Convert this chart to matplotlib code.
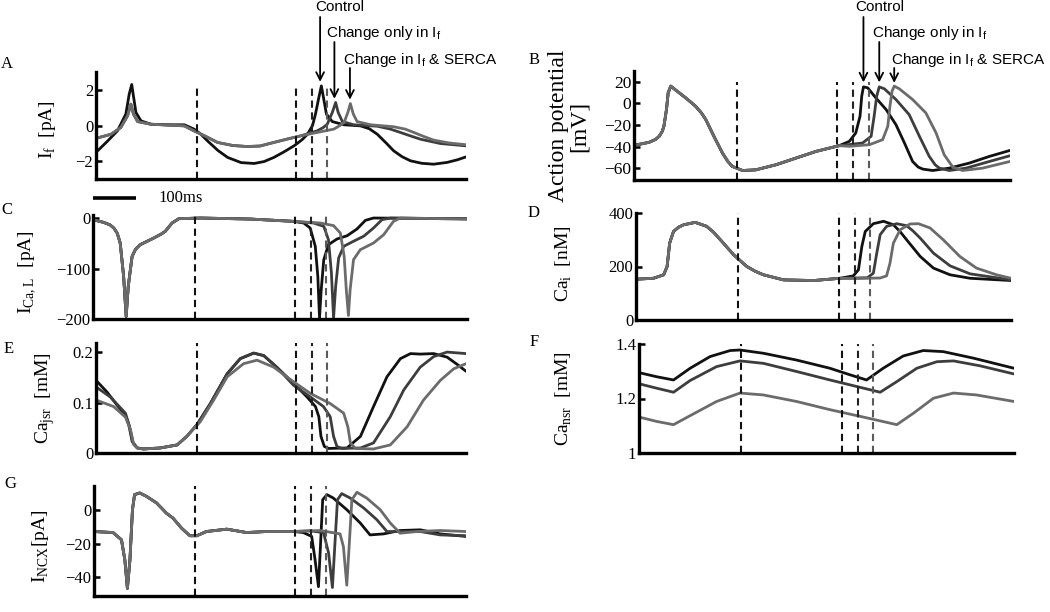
import matplotlib
matplotlib.use("Agg")
from matplotlib import pyplot as plt
from matplotlib.transforms import blended_transform_factory

plt.rcParams['font.family'] = ['Liberation Serif', 'DejaVu Serif']
plt.rcParams['mathtext.fontset'] = 'custom'
plt.rcParams['mathtext.rm'] = 'Liberation Serif'

W, H = 1050, 612

# line colours of the three runs
C_CTRL = "#111111"
C_IF = "#3d3d3d"
C_SERCA = "#6b6b6b"

# time of the dashed markers (ms) and their colours
marks = [240, 476, 513, 549]
mark_colors = ["#111111", "#111111", "#222222", "#5a5a5a"]

# ---- A: I_f [pA] ----
if_ctrl = [(0, -1.51), (28, -0.86), (51, -0.3), (71, 0.64), (79, 1.76), (85, 2.3), (89, 1.66),
           (95, 0.73), (107, 0.26), (131, 0.07), (170, 0.04), (210, 0.04), (233, -0.2), (250, -0.5),
           (265, -0.86), (290, -1.4), (313, -1.79), (345, -2.08), (376, -2.13), (400, -2.02), (423, -1.79),
           (447, -1.48), (471, -1.14), (490, -0.8), (503, -0.49), (515, 0.0), (522, 0.64), (530, 1.57),
           (536, 2.22), (541, 1.57), (548, 0.64), (562, 0.22), (590, 0.04), (629, -0.02), (650, -0.18),
           (669, -0.49), (690, -0.98), (708, -1.42), (728, -1.75), (748, -1.98), (775, -2.12),
           (803, -2.17), (835, -2.07), (860, -1.92), (880, -1.76)]
if_grey = [(0, -0.72), (36, -0.49), (59, -0.11), (75, 0.54), (83, 1.2), (89, 0.64), (99, 0.22),
           (131, 0.07), (210, -0.02), (233, -0.3), (260, -0.6), (289, -0.95), (325, -1.12),
           (360, -1.18), (390, -1.15), (423, -0.95), (455, -0.76), (487, -0.58)]
if_only = if_grey + [(526, -0.3), (540, -0.12), (550, 0.07), (562, 0.73), (570, 1.29), (576, 0.73),
                     (586, 0.22), (613, 0.04), (669, -0.04), (700, -0.2), (724, -0.39), (750, -0.6),
                     (772, -0.77), (819, -1.01), (880, -1.14)]
if_serca = if_grey + [(526, -0.39), (566, -0.2), (580, 0.0), (590, 0.17), (599, 0.73), (605, 1.23),
                      (612, 0.64), (621, 0.22), (653, 0.04), (708, -0.07), (735, -0.2), (756, -0.39),
                      (780, -0.62), (803, -0.82), (840, -0.98), (880, -1.08)]

# ---- B: action potential [mV] ----
ap_common = [(0, -38.9), (35, -36.1), (50, -33.5), (59, -30.5), (66, -26), (70, -21.2), (76, -5.7), (80, 9.8),
             (86, 16), (98, 12.2), (121, 5.1), (144, -2.6), (158, -9), (168, -15), (187, -30.5), (207, -46),
             (220, -54), (230, -58.4), (254, -62.2), (285, -61.6), (332, -56.9), (379, -50.7), (426, -44.5),
             (480, -39.2)]
ap_ctrl = ap_common + [(504, -35.2), (519, -27.4), (529, -11.9), (533, 6.7), (537, 15.3), (547, 14.4),
                       (566, 5.1), (590, -5.7), (613, -19.7), (633, -36.7), (652, -53.8), (665, -59),
                       (676, -60.9), (699, -62.2), (738, -60), (785, -55.3), (832, -49.1), (880, -43.6)]
ap_if = ap_common + [(504, -38.2), (535, -36.7), (555, -30.5), (562, -11.9), (568, 6.7), (574, 15.3),
                     (586, 13.5), (613, 3.6), (644, -10.4), (668, -30.5), (691, -49.1), (705, -57),
                     (715, -60), (738, -62.2), (777, -60), (832, -53.8), (880, -48.5)]
ap_serca = ap_common + [(504, -39.8), (551, -38.3), (582, -33.6), (594, -21.2), (599, -2.6), (604, 11.3),
                        (609, 16), (621, 13.5), (652, 3.6), (683, -8.8), (707, -27.4), (726, -47.6),
                        (746, -59), (769, -62.2), (816, -60), (880, -53.8)]

# ---- C: I_Ca,L [pA] ----
ical_common = [(0, -3.3), (25, -8.6), (40, -13.5), (49, -19.8), (57, -30), (64, -49.5), (72, -115), (78, -195),
               (83, -135), (92, -76), (100, -62), (111, -52.8), (143, -39.6), (160, -32), (170, -26.4),
               (186, -9.9), (202, -1.3), (253, 0), (370, -2), (472, -6.6)]
ical_ctrl = ical_common + [(496, -9.9), (511, -19.8), (523, -56), (529, -115.5), (533, -198), (537, -142),
                           (543, -82.5), (554, -52.8), (574, -41.6), (598, -35), (621, -21.8), (641, -4.6),
                           (660, 0), (880, -1.3)]
ical_if = ical_common + [(519, -9.9), (543, -16.5), (554, -42.9), (561, -109), (566, -198), (571, -135),
                         (578, -79), (590, -56), (613, -46), (637, -36), (660, -19.8), (680, -3.3),
                         (700, 0), (880, -2)]
ical_serca = ical_common + [(535, -9.9), (566, -15), (582, -29.7), (591, -76), (596, -142), (601, -193),
                            (605, -142), (613, -82.5), (629, -62.7), (660, -49.5), (684, -33), (707, -6.6),
                            (723, 0), (880, -2)]

# ---- D: Ca_i [nM] ----
cai_common = [(0, 152.5), (41, 156), (65, 169), (73, 200), (79, 287.5), (88, 331), (100, 347), (112, 356),
              (139, 365), (166, 350), (182, 328), (198, 300), (229, 244), (260, 200), (280, 182), (299, 169),
              (346, 150), (417, 147.5), (479, 156)]
cai_ctrl = cai_common + [(510, 165), (522, 187.5), (530, 275), (538, 331), (557, 360), (581, 369),
                         (604, 356), (620, 330), (635, 300), (667, 237.5), (698, 194), (737, 169), (784, 156),
                         (880, 147.5)]
cai_if = cai_common + [(510, 157), (543, 158), (557, 175), (565, 250), (573, 319), (588, 350), (612, 360),
                       (635, 352.5), (650, 333), (667, 306), (698, 250), (737, 202.5), (784, 172.5), (880, 150)]
cai_serca = cai_common + [(510, 155), (573, 157), (588, 165), (596, 212.5), (604, 287.5), (620, 337.5),
                          (643, 359), (663, 360), (690, 344), (721, 300), (760, 237.5), (799, 194),
                          (846, 169), (880, 156)]

# ---- E: Ca_jsr [mM] ----
jsr_mid = [(113, 0.008), (153, 0.01), (193, 0.016), (216, 0.033), (240, 0.056), (272, 0.098), (312, 0.157),
           (343, 0.187), (375, 0.198), (399, 0.193), (430, 0.17)]
jsr_ctrl = [(0, 0.144), (26, 0.121), (50, 0.095), (70, 0.075), (78, 0.056), (86, 0.023), (98, 0.01)] + jsr_mid + \
           [(470, 0.138), (502, 0.111), (522, 0.092), (530, 0.072), (535, 0.033), (543, 0.013), (553, 0.009),
            (597, 0.01), (629, 0.033), (660, 0.092), (692, 0.151), (724, 0.187), (748, 0.197), (771, 0.196),
            (803, 0.197), (835, 0.19), (860, 0.175), (880, 0.162)]
jsr_if = [(0, 0.131), (34, 0.111), (70, 0.079), (80, 0.052), (88, 0.02), (98, 0.01)] + jsr_mid + \
         [(470, 0.134), (510, 0.111), (541, 0.092), (557, 0.072), (565, 0.033), (573, 0.013), (585, 0.009),
          (629, 0.01), (660, 0.02), (700, 0.072), (732, 0.125), (771, 0.17), (803, 0.191), (835, 0.2),
          (880, 0.197)]
jsr_serca = [(0, 0.105), (42, 0.092), (70, 0.071), (82, 0.046), (90, 0.016), (100, 0.009), (113, 0.008),
             (153, 0.01), (193, 0.016), (216, 0.033), (248, 0.062), (280, 0.105), (312, 0.151), (351, 0.177),
             (383, 0.184), (423, 0.17), (470, 0.141), (510, 0.118), (557, 0.098), (589, 0.079), (599, 0.052),
             (605, 0.02), (617, 0.009), (660, 0.008), (700, 0.016), (740, 0.052), (779, 0.105), (819, 0.144),
             (851, 0.167), (880, 0.177)]

# ---- F: Ca_nsr [mM] ----
nsr_ctrl = [(0, 1.295), (41, 1.28), (81, 1.268), (120, 1.311), (167, 1.354), (214, 1.376), (237, 1.378),
            (292, 1.366), (370, 1.341), (448, 1.311), (495, 1.287), (534, 1.268), (573, 1.311), (620, 1.356),
            (667, 1.376), (714, 1.372), (785, 1.348), (880, 1.311)]
nsr_if = [(0, 1.254), (41, 1.238), (81, 1.223), (120, 1.266), (182, 1.317), (237, 1.338), (292, 1.329),
          (370, 1.299), (448, 1.268), (511, 1.244), (566, 1.223), (605, 1.262), (652, 1.311), (699, 1.335),
          (738, 1.338), (800, 1.32), (880, 1.29)]
nsr_serca = [(0, 1.132), (41, 1.116), (81, 1.104), (120, 1.137), (182, 1.189), (237, 1.22), (292, 1.213),
             (370, 1.189), (448, 1.159), (526, 1.132), (605, 1.104), (644, 1.146), (691, 1.201), (738, 1.22),
             (792, 1.213), (880, 1.189)]

# ---- G: I_NCX [pA] ----
ncx_common = [(0, -12.9), (45, -13.5), (65, -17.8), (73, -29.7), (79, -46.5), (85, -29.7), (91, 0), (96, 8.9),
              (108, 9.9), (124, 7.9), (148, 4), (171, -2), (187, -5), (207, -10.9), (227, -15.4), (243, -15.4),
              (266, -12.9), (314, -11.5), (361, -13.5), (408, -12.9), (472, -12.9)]
ncx_ctrl = ncx_common + [(495, -13.5), (515, -15.8), (523, -29.7), (531, -45.5), (536, -19.8), (541, 5.9),
                         (551, 8.9), (566, 6.9), (598, 0), (630, -7.9), (653, -14.9), (685, -14.3), (724, -12.3),
                         (772, -11.9), (819, -14.3), (880, -15.8)]
ncx_if = ncx_common + [(511, -12.5), (543, -13.5), (555, -25.7), (564, -46), (570, -19.8), (576, 5.9),
                       (586, 9.5), (606, 6.9), (638, 1), (669, -5.9), (693, -12.9), (724, -12.9), (772, -12.9),
                       (819, -14.9), (880, -15.4)]
ncx_serca = ncx_common + [(535, -12.3), (582, -14.3), (590, -21.8), (598, -44.6), (604, -19.8), (610, 5.9),
                          (622, 10.3), (645, 6.9), (677, 0), (701, -7.9), (724, -13.9), (764, -12.9),
                          (819, -12.3), (880, -12.9)]


def fx(x):
    return x / W


def fy(y):
    return 1 - y / H


def draw_panel(rect, series, ylim, yticks, mark_top=1.0, tick_size=12):
    ax = fig.add_axes(rect)
    for data, col in zip(series, [C_CTRL, C_IF, C_SERCA]):
        t = [p[0] for p in data]
        v = [p[1] for p in data]
        ax.plot(t, v, color=col, lw=2.0, solid_joinstyle='round', solid_capstyle='round')
    for m, mc in zip(marks, mark_colors):
        ax.axvline(m, ymin=0, ymax=mark_top, color=mc, lw=1.5, ls=(0, (3.5, 2.2)))
    ax.set_xlim(0, 880)
    ax.set_ylim(*ylim)
    ax.set_yticks(yticks)
    ax.set_yticklabels([('%g' % v).replace('-', '\u2212') for v in yticks])
    ax.set_xticks([])
    for s in ['top', 'right']:
        ax.spines[s].set_visible(False)
    for s in ['left', 'bottom']:
        ax.spines[s].set_linewidth(2.4)
    ax.tick_params(axis='y', direction='in', length=4, width=1.8, pad=2, labelsize=tick_size)
    ax.patch.set_alpha(0)
    return ax


fig = plt.figure(figsize=(W / 100, H / 100), dpi=100)

axA = draw_panel([fx(96), fy(179), 370 / W, 107 / H], [if_ctrl, if_only, if_serca], (-3, 3), [-2, 0, 2],
                 mark_top=0.87)
axB = draw_panel([fx(634), fy(180), 376 / W, 109 / H], [ap_ctrl, ap_if, ap_serca], (-71, 30),
                 [-60, -40, -20, 0, 20], mark_top=0.9, tick_size=12.5)
axC = draw_panel([fx(93), fy(319), 374 / W, 104 / H], [ical_ctrl, ical_if, ical_serca], (-200, 6),
                 [-200, -100, 0])
axD = draw_panel([fx(636), fy(320), 375 / W, 107 / H], [cai_ctrl, cai_if, cai_serca], (0, 400),
                 [0, 200, 400])
axE = draw_panel([fx(96), fy(453), 370 / W, 110 / H], [jsr_ctrl, jsr_if, jsr_serca], (0, 0.218),
                 [0, 0.1, 0.2])
axF = draw_panel([fx(639), fy(453), 375 / W, 109 / H], [nsr_ctrl, nsr_if, nsr_serca], (1.0, 1.4),
                 [1, 1.2, 1.4])
axG = draw_panel([fx(94), fy(596), 372 / W, 110 / H], [ncx_ctrl, ncx_if, ncx_serca], (-51, 14),
                 [-40, -20, 0])

# y labels
ylabels = [
    (47, 130, r'I$_{\mathregular{f}}$  [pA]', 14),
    (569, 126, 'Action potential\n[mV]', 17),
    (27, 272, r'I$_{\mathregular{Ca,L}}$  [pA]', 14),
    (564, 264, r'Ca$_{\mathregular{i}}$  [nM]', 14),
    (45, 398, r'Ca$_{\mathregular{jsr}}$  [mM]', 14),
    (564, 399, r'Ca$_{\mathregular{nsr}}$  [mM]', 14),
    (40, 546, r'I$_{\mathregular{NCX}}$[pA]', 14),
]
for x, y, s, fs in ylabels:
    fig.text(fx(x), fy(y), s, rotation=90, ha='center', va='center', fontsize=fs, linespacing=1.0)

# panel letters
for x, y, s in [(7, 64, 'A'), (534, 60, 'B'), (7, 210, 'C'), (534, 213, 'D'),
                (9, 349, 'E'), (534, 342, 'F'), (10, 484, 'G')]:
    fig.text(fx(x), fy(y), s, ha='center', va='center', fontsize=12)

# 100 ms scale bar above panel C
bar_tr = blended_transform_factory(axC.transData, axC.transAxes)
axC.plot([0, 100], [1.16, 1.16], transform=bar_tr, color='black', lw=2.6, clip_on=False,
         solid_capstyle='butt')
fig.text(fx(158), fy(198), '100ms', ha='left', va='center', fontsize=12)

# arrows marking the spikes
sans = ['Liberation Sans', 'DejaVu Sans']
arrow_kw = dict(arrowstyle='->,head_length=0.55,head_width=0.28', lw=1.3, color='black',
                shrinkA=0, shrinkB=0)
for ax, tips, tails, texts in [
    (axA, [(533, 2.45), (567, 1.5), (604, 1.45)], [17, 42, 68],
     [(340, 7, 'center'), (326, 33, 'left'), (343, 60, 'left')]),
    (axB, [(537, 19.5), (574, 19.5), (609, 19)], [17, 42, 68],
     [(880, 7, 'center'), (872, 33, 'left'), (891, 60, 'left')]),
]:
    tail_tr = blended_transform_factory(ax.transData, fig.transFigure)
    for (tx, ty), tail in zip(tips, tails):
        ax.annotate('', xy=(tx, ty), xycoords='data', xytext=(tx, fy(tail)), textcoords=tail_tr,
                    arrowprops=arrow_kw, annotation_clip=False)
    labels = ['Control', r'Change only in I$_\mathregular{f}$', r'Change in I$_\mathregular{f}$ & SERCA']
    for (x, y, ha), s in zip(texts, labels):
        fig.text(fx(x), fy(y), s, ha=ha, va='center', fontsize=11, family=sans)

fig.savefig('out.png', dpi=100)
